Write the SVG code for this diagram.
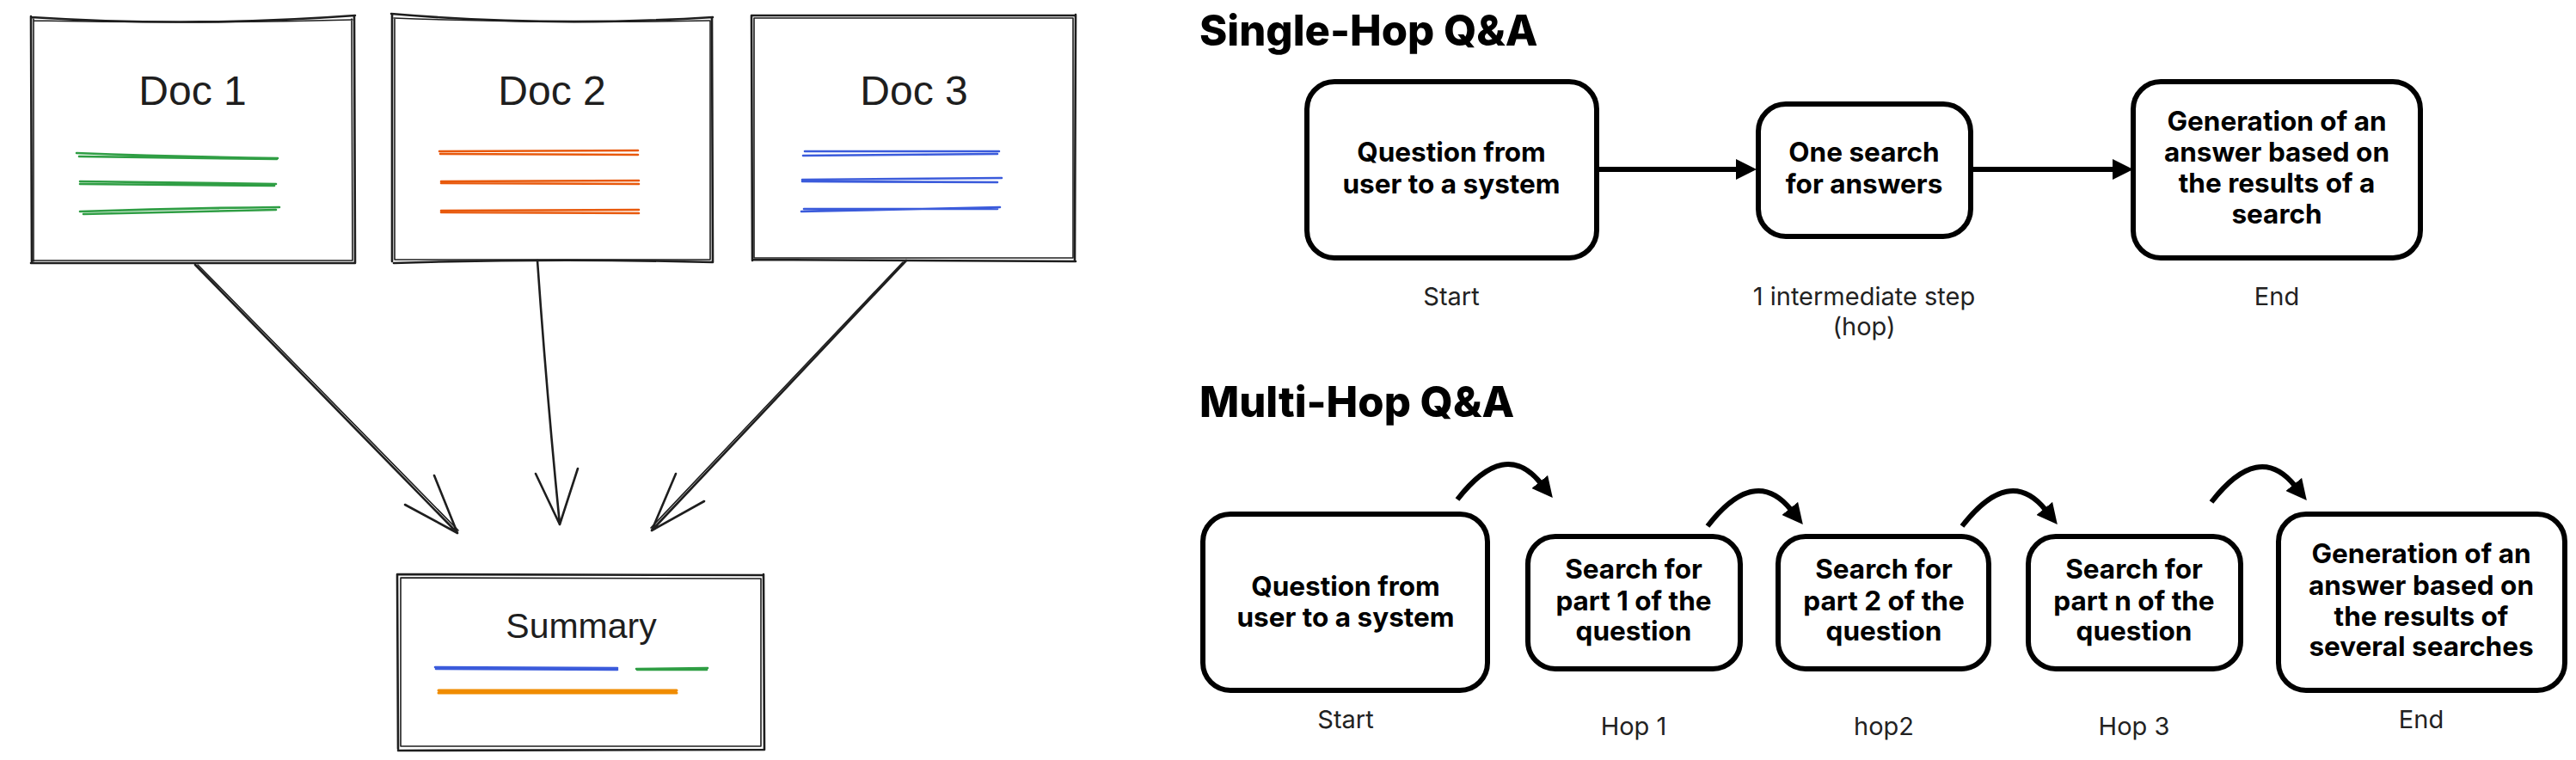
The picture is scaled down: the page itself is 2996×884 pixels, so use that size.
<svg xmlns="http://www.w3.org/2000/svg" width="2996" height="884" viewBox="0 0 2996 884">
<style>
.sk{fill:none;stroke:#1e1e1e;stroke-width:2.6;stroke-linecap:round;stroke-linejoin:round}
.sk2{fill:none;stroke:#1e1e1e;stroke-width:1.6;stroke-linecap:round}
.hand{font-family:"Liberation Sans","DejaVu Sans",sans-serif;fill:#1e1e1e;text-anchor:middle}
.g{fill:none;stroke:#2f9e44;stroke-width:2.6;stroke-linecap:round}
.o{fill:none;stroke:#e8590c;stroke-width:2.6;stroke-linecap:round}
.b{fill:none;stroke:#3b5bdb;stroke-width:2.6;stroke-linecap:round}
.y{fill:none;stroke:#f08c00;stroke-width:3;stroke-linecap:round}
.box{fill:#fff;stroke:#000;stroke-width:6}
.bt{font-family:Inter,"Noto Sans",sans-serif;font-weight:700;font-size:31.5px;fill:#000;text-anchor:middle}
.lb{font-family:Inter,"Noto Sans",sans-serif;font-weight:400;font-size:29px;fill:#222;text-anchor:middle}
.ttl{font-family:Inter,"Noto Sans",sans-serif;font-weight:800;font-size:49px;fill:#000}
.ar{fill:none;stroke:#000;stroke-width:6}
</style>
<defs>
<marker id="ah" viewBox="0 0 24 24" refX="2" refY="12" markerWidth="24" markerHeight="24" markerUnits="userSpaceOnUse" orient="auto">
<path d="M0,0 L24,12 L0,24 Z" fill="#000"/>
</marker>
</defs>

<g id="doc1">
<rect x="37" y="21" width="375" height="284" fill="#fff"/>
<path class="sk" d="M36,20 Q224,32 413,18 M412,19 L413,306 M413,306 L36,306 M37,306 L36,19"/>
<path class="sk2" d="M39,24 Q224,28 410,23 M409,22 L410,303 M410,303 L38,303 M39,304 L39,22"/>
<text class="hand" x="224" y="122" font-size="48">Doc 1</text>
<path class="g" d="M89,178 Q200,182 323,184 M92,182 L322,185 M93,211 Q210,213 321,214 M93,214 L319,216 M93,246 Q210,242 325,241 M97,249 Q210,246 321,244"/>
</g>

<g id="doc2">
<rect x="456" y="20" width="372" height="283" fill="#fff"/>
<path class="sk" d="M455,16 Q640,32 829,20 M828,21 L829,305 M829,305 Q640,300 458,306 M456,304 L456,17"/>
<path class="sk2" d="M458,21 Q640,28 825,24 M826,24 L826,302 M826,302 L460,302 M459,302 L459,22"/>
<text class="hand" x="642" y="122" font-size="48">Doc 2</text>
<path class="o" d="M511,176 L742,175 M512,179 L742,180 M513,211 L743,210 M513,213 L743,214 M513,245 L743,244 M513,247 L743,248"/>
</g>

<g id="doc3">
<rect x="875" y="19" width="376" height="284" fill="#fff"/>
<path class="sk" d="M874,18 L1251,18 M1251,17 L1250,304 M1251,304 L875,302 M875,303 L874,18"/>
<path class="sk2" d="M877,21 L1248,21 M1248,21 L1248,300 M1248,300 L877,300 M877,300 L877,21"/>
<text class="hand" x="1063" y="122" font-size="48">Doc 3</text>
<path class="b" d="M936,176 L1162,176 M934,181 L1160,179 M933,209 L1165,207 M933,211 L1160,212 M932,246 L1163,241 M935,243 L1160,243"/>
</g>

<g id="summary">
<rect x="463" y="668" width="425" height="203" fill="#fff"/>
<path class="sk" d="M462,668 L888,669 M888,668 L889,872 M889,872 L463,873 M463,871 L462,668"/>
<path class="sk2" d="M466,672 L885,673 M885,673 L885,868 M885,868 L466,868 M466,868 L466,672"/>
<text class="hand" x="676" y="742" font-size="41">Summary</text>
<path class="b" d="M506,776 L718,777 M507,778 L718,779"/>
<path class="g" d="M740,778 L823,777 M741,779 L822,779"/>
<path class="y" d="M510,803 L787,803 M510,806 L787,806"/>
</g>

<g id="connectors-left">
<path class="sk" d="M227,308 L532,620 M505,553 L532,620 M471,587 L532,620"/>
<path class="sk2" d="M230,308 L533,617"/>
<path class="sk" d="M625,303 Q636,460 651,610 M623,551 L651,610 M672,545 L651,610"/>
<path class="sk" d="M1054,303 L758,617 M786,551 L758,617 M819,583 L758,617"/>
<path class="sk2" d="M1050,305 L757,614"/>
</g>

<g id="single-hop">
<text class="ttl" x="1395" y="53">Single-Hop Q&amp;A</text>
<g id="s-q">
<rect class="box" x="1520" y="95" width="337" height="205" rx="32"/>
<text class="bt" x="1688" y="188">Question from</text>
<text class="bt" x="1688" y="225">user to a system</text>
<text class="lb" x="1688" y="355">Start</text>
</g>
<g id="s-search">
<rect class="box" x="2045" y="121" width="247" height="154" rx="32"/>
<text class="bt" x="2168" y="188">One search</text>
<text class="bt" x="2168" y="225">for answers</text>
<text class="lb" x="2168" y="355">1 intermediate step</text>
<text class="lb" x="2168" y="390">(hop)</text>
</g>
<g id="s-gen">
<rect class="box" x="2481" y="95" width="334" height="205" rx="32"/>
<text class="bt" x="2648" y="152">Generation of an</text>
<text class="bt" x="2648" y="188">answer based on</text>
<text class="bt" x="2648" y="224">the results of a</text>
<text class="bt" x="2648" y="260">search</text>
<text class="lb" x="2648" y="355">End</text>
</g>
</g>

<g id="multi-hop">
<text class="ttl" x="1395" y="485">Multi-Hop Q&amp;A</text>
<g id="m-q">
<rect class="box" x="1399" y="598" width="331" height="205" rx="32"/>
<text class="bt" x="1565" y="693">Question from</text>
<text class="bt" x="1565" y="729">user to a system</text>
<text class="lb" x="1565" y="847">Start</text>
</g>
<g id="m-p1">
<rect class="box" x="1777" y="624" width="247" height="154" rx="32"/>
<text class="bt" x="1900" y="673">Search for</text>
<text class="bt" x="1900" y="710">part 1 of the</text>
<text class="bt" x="1900" y="745">question</text>
<text class="lb" x="1900" y="855">Hop 1</text>
</g>
<g id="m-p2">
<rect class="box" x="2068" y="624" width="245" height="154" rx="32"/>
<text class="bt" x="2191" y="673">Search for</text>
<text class="bt" x="2191" y="710">part 2 of the</text>
<text class="bt" x="2191" y="745">question</text>
<text class="lb" x="2191" y="855">hop2</text>
</g>
<g id="m-pn">
<rect class="box" x="2359" y="624" width="247" height="154" rx="32"/>
<text class="bt" x="2482" y="673">Search for</text>
<text class="bt" x="2482" y="710">part n of the</text>
<text class="bt" x="2482" y="745">question</text>
<text class="lb" x="2482" y="855">Hop 3</text>
</g>
<g id="m-gen">
<rect class="box" x="2650" y="598" width="333" height="205" rx="32"/>
<text class="bt" x="2816" y="655">Generation of an</text>
<text class="bt" x="2816" y="692">answer based on</text>
<text class="bt" x="2816" y="728">the results of</text>
<text class="bt" x="2816" y="763">several searches</text>
<text class="lb" x="2816" y="847">End</text>
</g>
</g>

<g id="connectors-right">
<path class="ar" d="M1857,197 L2021,197" marker-end="url(#ah)"/>
<path class="ar" d="M2292,197 L2459,197" marker-end="url(#ah)"/>
<path class="ar" d="M1695,581 Q1750,510 1792,562" marker-end="url(#ah)"/>
<path class="ar" d="M1986,612 Q2041,541 2083,593" marker-end="url(#ah)"/>
<path class="ar" d="M2282,612 Q2337,541 2379,593" marker-end="url(#ah)"/>
<path class="ar" d="M2572,584 Q2627,513 2669,565" marker-end="url(#ah)"/>
</g>
</svg>
